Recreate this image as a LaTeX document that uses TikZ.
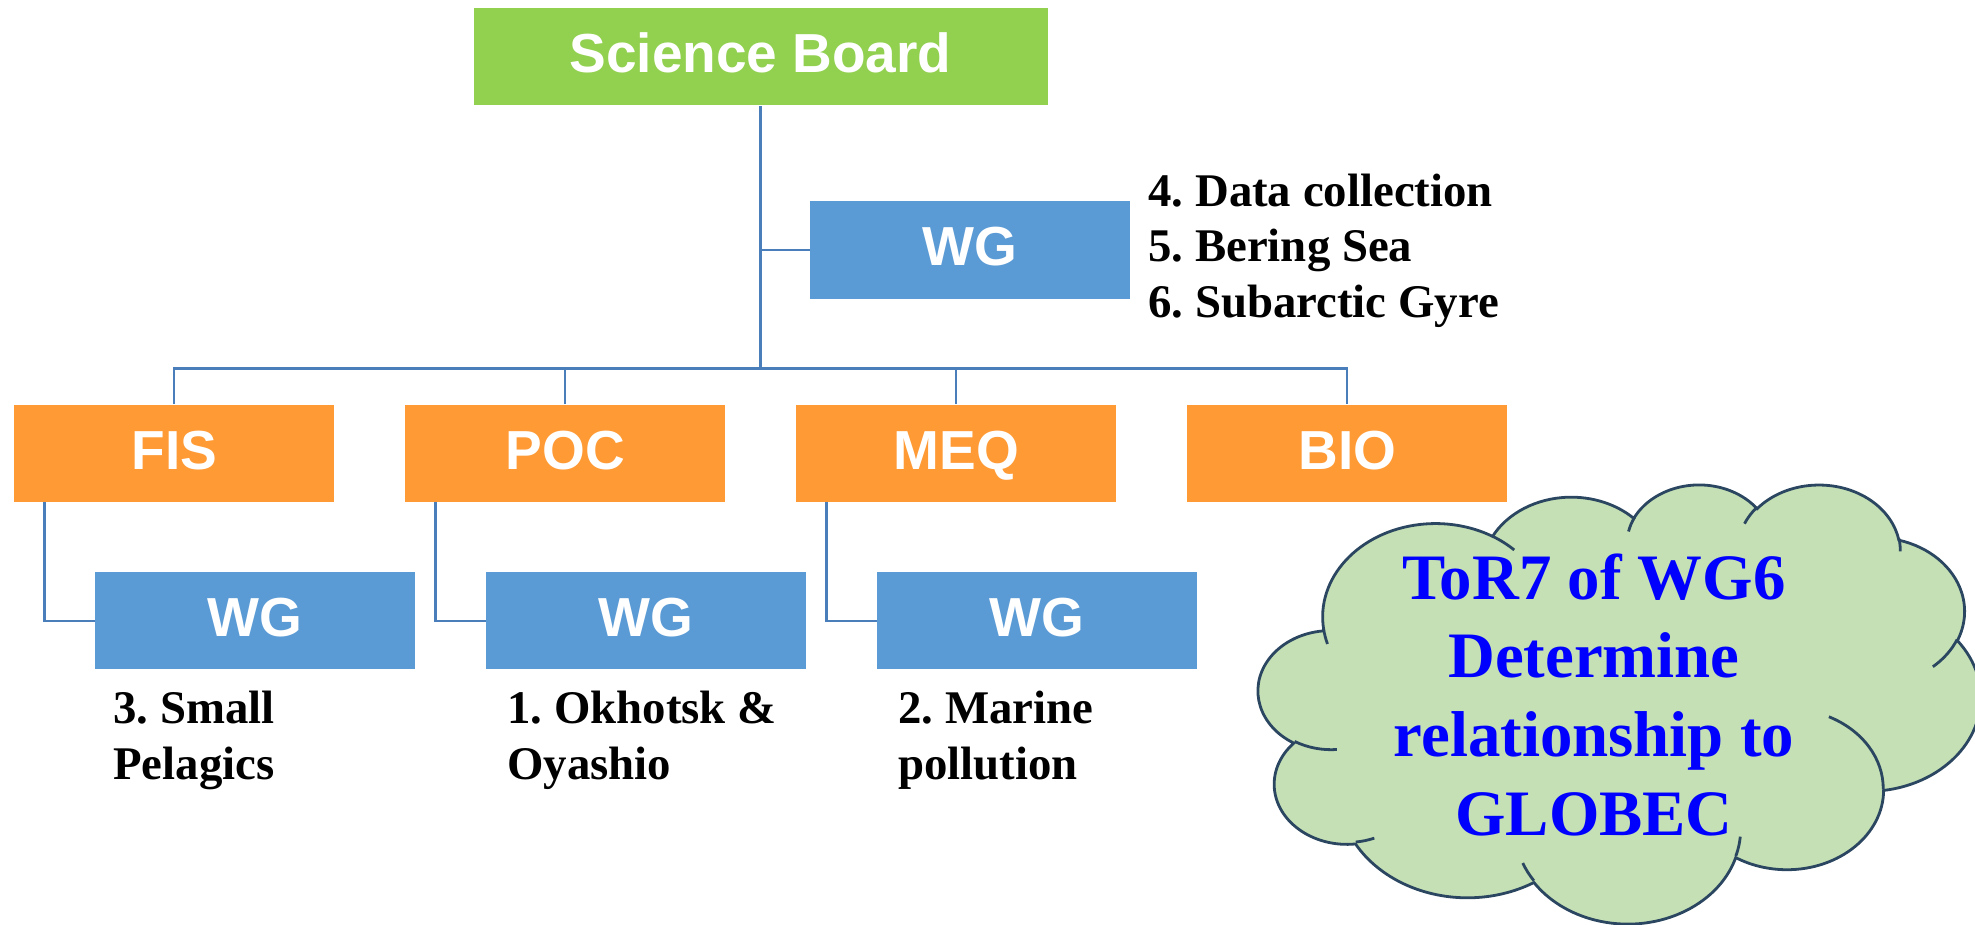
\documentclass[tikz,border=0pt]{standalone}
\usepackage{fontspec}
\setmainfont{Liberation Serif}
\newfontfamily\orgsans{Liberation Sans}
\frenchspacing
\definecolor{boardgreen}{HTML}{92D050}
\definecolor{wgblue}{HTML}{5B9BD5}
\definecolor{comorange}{HTML}{FF9A35}
\definecolor{linkblue}{HTML}{4A7EBB}
\definecolor{cloudgreen}{HTML}{C5E0B4}
\definecolor{cloudedge}{HTML}{2B4660}
\definecolor{torblue}{HTML}{0000FF}
\tikzset{
  orgbox/.style={inner sep=0pt, minimum width=160pt, minimum height=48.5pt,
    text height=22pt, text depth=6pt, text=white,
    font=\orgsans\bfseries\fontsize{27.5}{33}\selectfont},
  board/.style={orgbox, fill=boardgreen, minimum width=287pt},
  wgbox/.style={orgbox, fill=wgblue},
  combox/.style={orgbox, fill=comorange},
  link/.style={draw=linkblue, line width=1.1pt},
  note/.style={inner sep=0pt, anchor=base west,
    font=\bfseries\fontsize{23.4}{28}\selectfont},
  tortext/.style={inner sep=0pt, anchor=base, text=torblue,
    font=\bfseries\fontsize{32.4}{40}\selectfont},
  % elliptical arc given by radii, start angle and sweep measured as
  % true (geometric) angles; converted to parametric angles here
  cld/.style n args={4}{x radius=#1, y radius=#2,
    start angle={atan2((#1)*sin(#3),(#2)*cos(#3))},
    delta angle={mod(atan2((#1)*sin((#3)+(#4)),(#2)*cos((#3)+(#4)))-atan2((#1)*sin(#3),(#2)*cos(#3))+720,360)}},
  cloudstroke/.style={draw=cloudedge, line width=1.4pt}
}
\begin{document}
\begin{tikzpicture}[x=0.5pt,y=-0.5pt]
\useasboundingbox (0,0) rectangle (1975,925);

% boxes
\node[board]  (sb)  at (760.5,57)    {Science Board};
\node[wgbox]  (wgt) at (970,250)     {WG};
\node[combox] (fis) at (174.3,453.3) {FIS};
\node[combox] (poc) at (565.3,453.3) {POC};
\node[combox] (meq) at (956.3,453.3) {MEQ};
\node[combox] (bio) at (1347.3,453.3) {BIO};
\node[wgbox]  (wgf) at (255,620.7)   {WG};
\node[wgbox]  (wgp) at (646,620.7)   {WG};
\node[wgbox]  (wgm) at (1037,620.7)  {WG};
\coordinate (hub) at (760.5,368.5);

% connectors
\draw[link] (sb.south) -- (hub);
\draw[link] (wgt.west) -- (wgt.west -| sb.south);
\draw[link] (fis.north) |- (hub) -| (bio.north);
\draw[link] (poc.north) -- (poc.north |- hub);
\draw[link] (meq.north) -- (meq.north |- hub);
\draw[link] ([xshift=15.3pt]fis.south west) |- (wgf.west);
\draw[link] ([xshift=15.3pt]poc.south west) |- (wgp.west);
\draw[link] ([xshift=15.3pt]meq.south west) |- (wgm.west);

% working group topics
\node[note] (n4)  at (1148,206.7) {4. Data collection};
\node[note] (n5)  at (1148,262)   {5. Bering Sea};
\node[note] (n6)  at (1148,317.3) {6. Subarctic Gyre};
\node[note] (n3a) at (113,723) {3. Small};
\node[note] (n3b) at (113,779) {Pelagics};
\node[note] (n1a) at (507,723) {1. Okhotsk \&};
\node[note] (n1b) at (507,779) {Oyashio};
\node[note] (n2a) at (898,723) {2. Marine};
\node[note] (n2b) at (898,779) {pollution};

% cloud callout
\begin{scope}[shift={(1258.5,483.5)}, x=0.83565pt, y=-0.50810pt]
\filldraw[cloudstroke, fill=cloudgreen] (39.00,143.70)
  arc[cld={67.53}{91.90}{-190.4875}{123.7805}]
  arc[cld={53.33}{72.67}{-144.1024}{89.9452}]
  arc[cld={43.65}{59.45}{-145.8079}{99.7230}]
  arc[cld={48.57}{65.95}{-130.9861}{117.2417}]
  arc[cld={53.33}{72.73}{-78.7089}{109.0269}]
  arc[cld={67.75}{92.20}{-46.2673}{130.2690}]
  arc[cld={57.85}{78.67}{0.6250}{114.0333}]
  arc[cld={67.52}{92.15}{22.4516}{115.1726}]
  arc[cld={77.20}{105.43}{66.2426}{75.7110}]
  arc[cld={43.60}{59.18}{-274.9421}{146.7356}]
  arc[cld={43.45}{59.45}{-246.8285}{152.5189}]
  -- cycle;
\draw[cloudstroke] (46.93,261.77)  arc[cld={43.45}{59.45}{86.7420}{26.4295}];
\draw[cloudstroke] (69.28,348.99)  arc[cld={43.60}{59.18}{73.6105}{11.4475}];
\draw[cloudstroke] (164.78,390.90) arc[cld={67.52}{92.15}{137.6242}{14.0811}];
\draw[cloudstroke] (288.27,347.51) arc[cld={67.52}{92.15}{6.4533}{15.9984}];
\draw[cloudstroke] (341.29,229.54) arc[cld={57.85}{78.67}{-70.2924}{70.9174}];
\draw[cloudstroke] (417.98,153.54) arc[cld={53.33}{72.73}{30.3180}{27.7515}];
\draw[cloudstroke] (383.24,54.26)  arc[cld={48.57}{65.95}{-13.7443}{14.8589}];
\draw[cloudstroke] (290.78,39.52)  arc[cld={48.57}{65.95}{-149.1815}{18.1954}];
\draw[cloudstroke] (221.41,47.20)  arc[cld={43.65}{59.45}{-163.4943}{17.6864}];
\draw[cloudstroke] (140.00,51.92)  arc[cld={67.53}{91.90}{-66.7070}{12.3194}];
\draw[cloudstroke] (41.27,157.89)  arc[cld={67.53}{91.90}{157.6544}{11.8582}];
\end{scope}

\node[tortext] (t1) at (1594,599)   {ToR7 of WG6};
\node[tortext] (t2) at (1594,677.5) {Determine};
\node[tortext] (t3) at (1594,756)   {relationship to};
\node[tortext] (t4) at (1594,835)   {GLOBEC};
\end{tikzpicture}
\end{document}
